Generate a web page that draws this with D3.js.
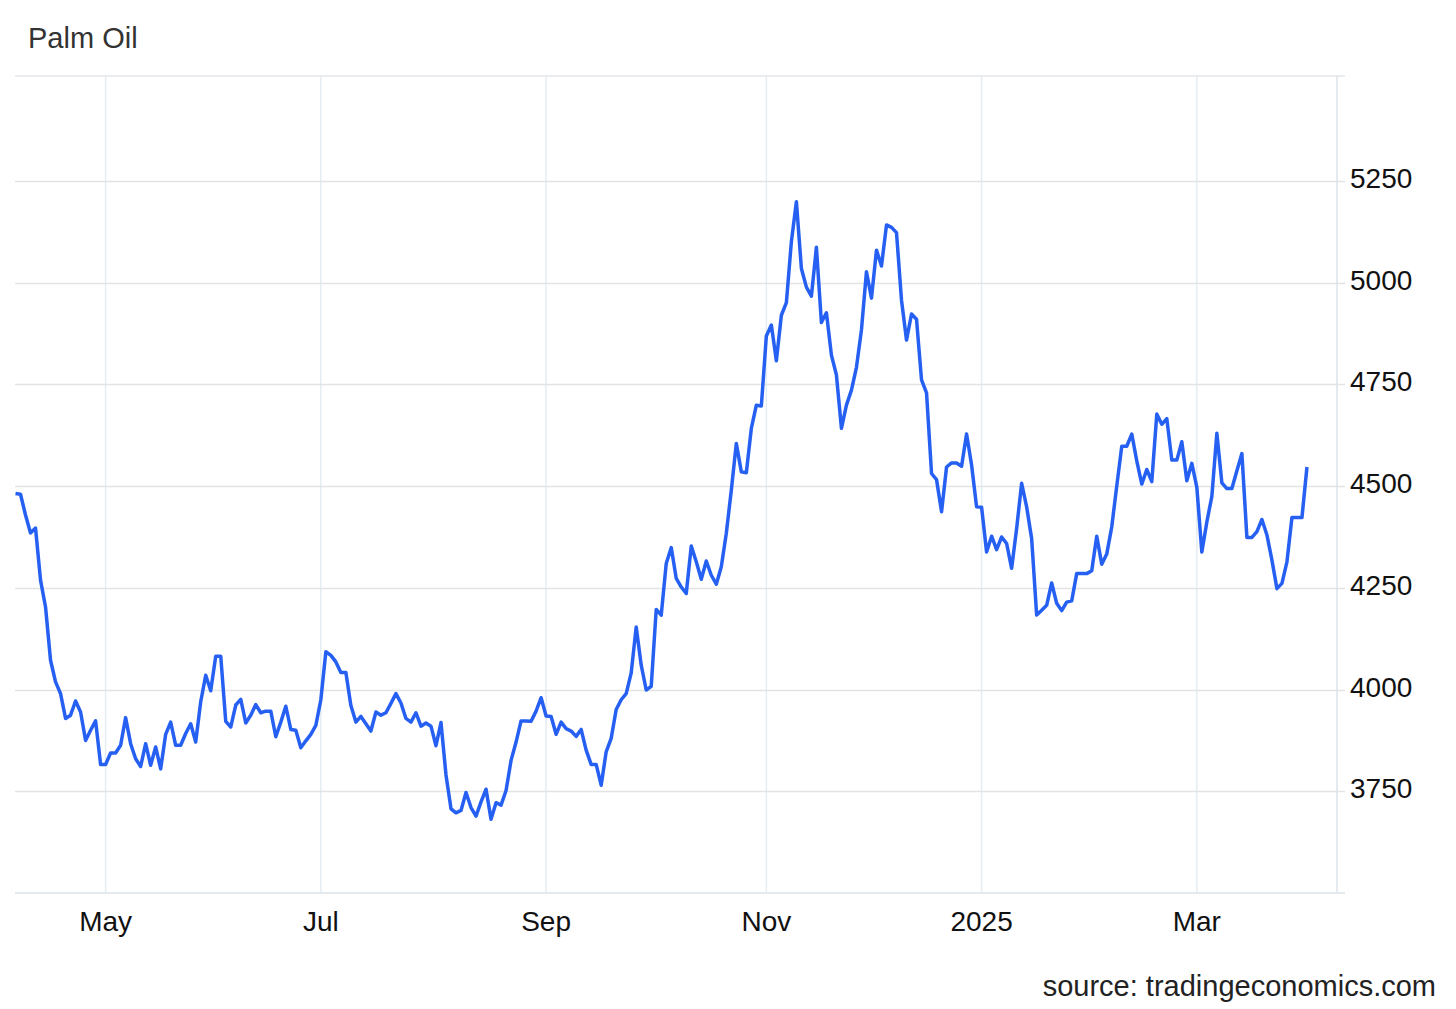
<!DOCTYPE html>
<html><head><meta charset="utf-8">
<script src="https://cdn.jsdelivr.net/npm/d3@7"></script>
<style>html,body{margin:0;padding:0;background:#fff;}svg{display:block;}</style>
</head><body>
<svg id="chart" width="1456" height="1009"></svg>
<script>
// ---- data (one value per trading weekday, starting 2024-04-05) ----
const startDate = "2024-04-05";
const valuesAprJun = [4482,4480,4429,4385,4397,4269,4203,4072,4019,3990,3929,3937,3972,3945,3875,3900,3923,3816,3816,3844,3844,3863,3931,3867,3830,3811,3867,3814,3859,3805,3890,3920,3863,3863,3892,3916,3871,3970,4035,3997,4082,4082,3922,3908,3962,3976,3918,3937,3963,3943,3947,3947,3884,3920,3959,3902,3900,3857,3874,3890,3912];
const valuesJulSep = [3975,4093,4084,4068,4042,4042,3961,3920,3934,3916,3898,3945,3937,3943,3966,3990,3967,3929,3920,3943,3910,3918,3910,3862,3919,3790,3707,3697,3703,3747,3710,3689,3724,3755,3681,3722,3716,3752,3826,3871,3923,3923,3922,3947,3980,3935,3934,3890,3920,3904,3898,3885,3902,3851,3816,3816,3765,3847,3880,3951,3975,3990,4041,4154,4060,3999];
const valuesOctDec = [4008,4197,4183,4310,4349,4273,4252,4236,4353,4314,4271,4316,4281,4259,4302,4384,4490,4605,4535,4533,4642,4699,4697,4869,4896,4808,4920,4951,5101,5199,5035,4989,4967,5087,4902,4926,4822,4773,4642,4699,4736,4792,4884,5027,4962,5080,5041,5142,5136,5123,4957,4859,4923,4910,4761,4729,4531,4516,4437,4547,4557,4557,4549,4628,4552,4449];
const valuesJanApr = [4448,4338,4377,4344,4375,4359,4298,4396,4507,4449,4371,4183,4195,4207,4262,4212,4194,4215,4218,4285,4285,4285,4292,4377,4308,4333,4400,4500,4598,4598,4628,4562,4505,4541,4511,4677,4652,4666,4564,4564,4609,4513,4556,4497,4338,4412,4475,4630,4508,4494,4494,4538,4580,4374,4374,4388,4418,4380,4318,4248,4261,4314,4423,4423,4423,4547];
const xTickDates = ["2024-05-01","2024-07-01","2024-09-01","2024-11-01","2025-01-01","2025-03-01"];
const xTickLabels = ["May","Jul","Sep","Nov","2025","Mar"];
const yTicks = [3750,4000,4250,4500,4750,5000,5250];
const title = "Palm Oil";
const source = "source: tradingeconomics.com";

// ---- build table ----
const values = [].concat(valuesAprJun, valuesJulSep, valuesOctDec, valuesJanApr);
const parse = d3.utcParse("%Y-%m-%d");
const dates = [];
let d = parse(startDate);
while (dates.length < values.length) {
  const wd = d.getUTCDay();
  if (wd !== 0 && wd !== 6) dates.push(new Date(d));
  d = d3.utcDay.offset(d, 1);
}
const data = values.map((v, i) => ({i, date: dates[i], v}));
const tickIdx = xTickDates.map(s => { const t = parse(s); return data.find(p => p.date >= t).i; });

// ---- layout ----
const svg = d3.select("#chart");
const L = 15, R = 1337, T = 76, B = 893;
const x = d3.scaleLinear().domain([0, 264]).range([15.5, R]);
const y = d3.scaleLinear().domain([3500, 5508]).range([B, T]);
const font = "'Liberation Sans', Arial, sans-serif";

// vertical grid
svg.append("g").selectAll("line").data(tickIdx).join("line")
  .attr("x1", i => x(i)).attr("x2", i => x(i))
  .attr("y1", T).attr("y2", B)
  .attr("stroke", "#e4edf2").attr("stroke-width", 1.5);

// horizontal grid
svg.append("g").selectAll("line").data(yTicks).join("line")
  .attr("x1", L).attr("x2", 1345)
  .attr("y1", v => Math.round(y(v)) + 0.5).attr("y2", v => Math.round(y(v)) + 0.5)
  .attr("stroke", "#e3e3e3").attr("stroke-width", 1.5);

// frame lines
svg.append("line").attr("x1", L).attr("x2", 1345).attr("y1", T).attr("y2", T)
  .attr("stroke", "#e3e6ea").attr("stroke-width", 1.5);
svg.append("line").attr("x1", L).attr("x2", 1345).attr("y1", B).attr("y2", B)
  .attr("stroke", "#dde3e8").attr("stroke-width", 1.5);
svg.append("line").attr("x1", R).attr("x2", R).attr("y1", T).attr("y2", B)
  .attr("stroke", "#dde3e8").attr("stroke-width", 1.5);

// y labels
svg.append("g").selectAll("text").data(yTicks).join("text")
  .attr("x", 1350).attr("y", v => y(v) + 7)
  .attr("font-family", font).attr("font-size", 28).attr("fill", "#111")
  .text(v => v);

// x labels
svg.append("g").selectAll("text").data(tickIdx).join("text")
  .attr("x", (i, k) => x(i)).attr("y", 931)
  .attr("text-anchor", "middle")
  .attr("font-family", font).attr("font-size", 28).attr("fill", "#111")
  .text((i, k) => xTickLabels[k]);

// line
const line = d3.line().x(p => x(p.i)).y(p => y(p.v)).curve(d3.curveLinear);
svg.append("path").datum(data).attr("d", line)
  .attr("fill", "none").attr("stroke", "#2660f2").attr("stroke-width", 3.5)
  .attr("stroke-linejoin", "round").attr("stroke-linecap", "butt");

// title and source
svg.append("text").attr("x", 28).attr("y", 48)
  .attr("font-family", font).attr("font-size", 29).attr("fill", "#333").text(title);
svg.append("text").attr("x", 1436).attr("y", 996).attr("text-anchor", "end")
  .attr("font-family", font).attr("font-size", 29).attr("fill", "#222").text(source);
</script>
</body></html>
